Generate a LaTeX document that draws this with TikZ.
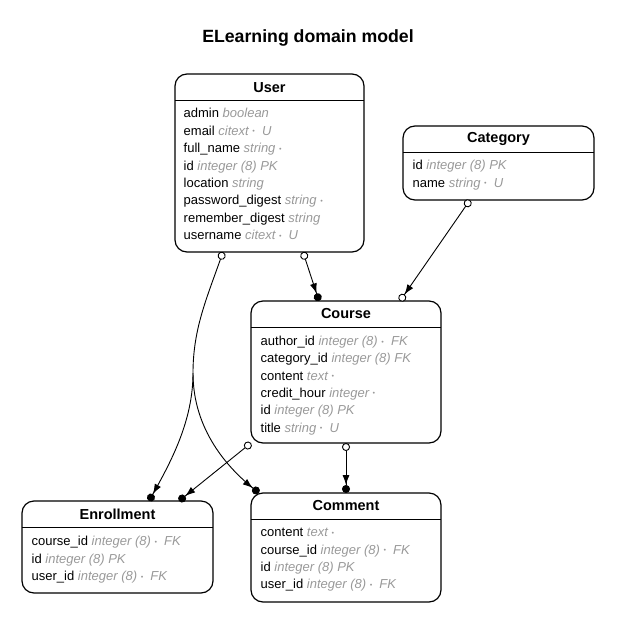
\documentclass[tikz,border=0pt]{standalone}
\usepackage{fontspec}
\setmainfont{Liberation Sans}
\usetikzlibrary{arrows.meta}

\definecolor{typegray}{HTML}{999999}
\newcommand{\ty}[1]{\textcolor{typegray}{\itshape #1}}
\newcommand{\mand}{\raisebox{1.6pt}{\fontsize{7}{7}\selectfont\textcolor{typegray}{•}}}

\tikzset{
  entbox/.style={draw, rounded corners=12pt, line width=1.2pt, inner sep=0pt, outer sep=0pt},
  hdr/.style={font=\fontsize{14.5}{16}\selectfont\bfseries, inner sep=0pt},
  fld/.style={anchor=base west, inner sep=0pt, font=\fontsize{13}{15}\selectfont},
  sepline/.style={line width=1pt},
  conn/.style={line width=0.9pt},
}

\begin{document}
\begin{tikzpicture}[x=1pt, y=-1pt]
\useasboundingbox (0,0) rectangle (624,629);
\node[font=\fontsize{17.7}{20}\selectfont\bfseries] (title) at (308,38) {ELearning domain model};

% entities
\node[entbox, minimum width=189pt, minimum height=178pt] (user) at (269.5,163) {};
\node[entbox, minimum width=191pt, minimum height=74pt] (category) at (498.5,163) {};
\node[entbox, minimum width=190pt, minimum height=142pt] (course) at (346,372) {};
\node[entbox, minimum width=191pt, minimum height=92pt] (enroll) at (117.5,547) {};
\node[entbox, minimum width=190pt, minimum height=109pt] (comment) at (346,547.5) {};

\node[hdr] (user-h) at ([yshift=-13.5pt]user.north) {User};
\node[hdr] (category-h) at ([yshift=-13pt]category.north) {Category};
\node[hdr] (course-h) at ([yshift=-13pt]course.north) {Course};
\node[hdr] (enroll-h) at ([yshift=-13pt]enroll.north) {Enrollment};
\node[hdr] (comment-h) at ([yshift=-13pt]comment.north) {Comment};

\foreach \e in {user, category, course, enroll, comment}
  \draw[sepline] ([yshift=-26pt]\e.north west) -- ([yshift=-26pt]\e.north east);

% fields
\foreach \t [count=\i from 0] in {
  {admin \ty{boolean}},
  {email \ty{citext \mand\ \ U}},
  {full\_name \ty{string \mand}},
  {id \ty{integer (8) PK}},
  {location \ty{string}},
  {password\_digest \ty{string \mand}},
  {remember\_digest \ty{string}},
  {username \ty{citext \mand\ \ U}}}
  \node[fld] (user-\i) at (183.5,117.8+17.4*\i) {\t};

\foreach \t [count=\i from 0] in {
  {id \ty{integer (8) PK}},
  {name \ty{string \mand\ \ U}}}
  \node[fld] (category-\i) at (412.5,169.8+17.6*\i) {\t};

\foreach \t [count=\i from 0] in {
  {author\_id \ty{integer (8) \mand\ \ FK}},
  {category\_id \ty{integer (8) FK}},
  {content \ty{text \mand}},
  {credit\_hour \ty{integer \mand}},
  {id \ty{integer (8) PK}},
  {title \ty{string \mand\ \ U}}}
  \node[fld] (course-\i) at (260.5,345.6+17.3*\i) {\t};

\foreach \t [count=\i from 0] in {
  {course\_id \ty{integer (8) \mand\ \ FK}},
  {id \ty{integer (8) PK}},
  {user\_id \ty{integer (8) \mand\ \ FK}}}
  \node[fld] (enroll-\i) at (31.5,545.8+17.4*\i) {\t};

\foreach \t [count=\i from 0] in {
  {content \ty{text \mand}},
  {course\_id \ty{integer (8) \mand\ \ FK}},
  {id \ty{integer (8) PK}},
  {user\_id \ty{integer (8) \mand\ \ FK}}}
  \node[fld] (comment-\i) at (260.5,536.8+17.3*\i) {\t};

% relations
\coordinate (split) at (193,373);
\draw[conn, {Circle[open,length=8pt,fill=white]}-{Latex[length=10pt,width=7pt] Circle[length=8pt]}]
  ([xshift=33.5pt]user.south) -- ([xshift=-27pt]course.north);
\draw[conn, {Circle[open,length=8pt,fill=white]}-{Latex[length=10pt,width=7pt] Circle[open,length=8pt,fill=white]}]
  ([xshift=-28.5pt]category.south) -- ([xshift=54pt]course.north);
\draw[conn, {Circle[open,length=8pt,fill=white]}-{Latex[length=10pt,width=7pt] Circle[length=8pt]}]
  (course.south) -- (comment.north);
\draw[conn, {Circle[open,length=8pt,fill=white]}-{Latex[length=10pt,width=7pt] Circle[length=8pt]}]
  (course.south west) -- ([xshift=61.5pt]enroll.north);
\draw[conn, {Circle[open,length=8pt,fill=white]}-{Latex[length=10pt,width=7pt] Circle[length=8pt]}]
  ([xshift=-46.5pt]user.south) .. controls (206,300) and (193,330) .. (split)
  .. controls (193,420) and (172,460) .. ([xshift=31.5pt]enroll.north);
\draw[conn, -{Latex[length=10pt,width=7pt] Circle[length=8pt]}]
  (split) .. controls (193,430) and (228,468) .. ([xshift=8pt]comment.north west);
\end{tikzpicture}
\end{document}
